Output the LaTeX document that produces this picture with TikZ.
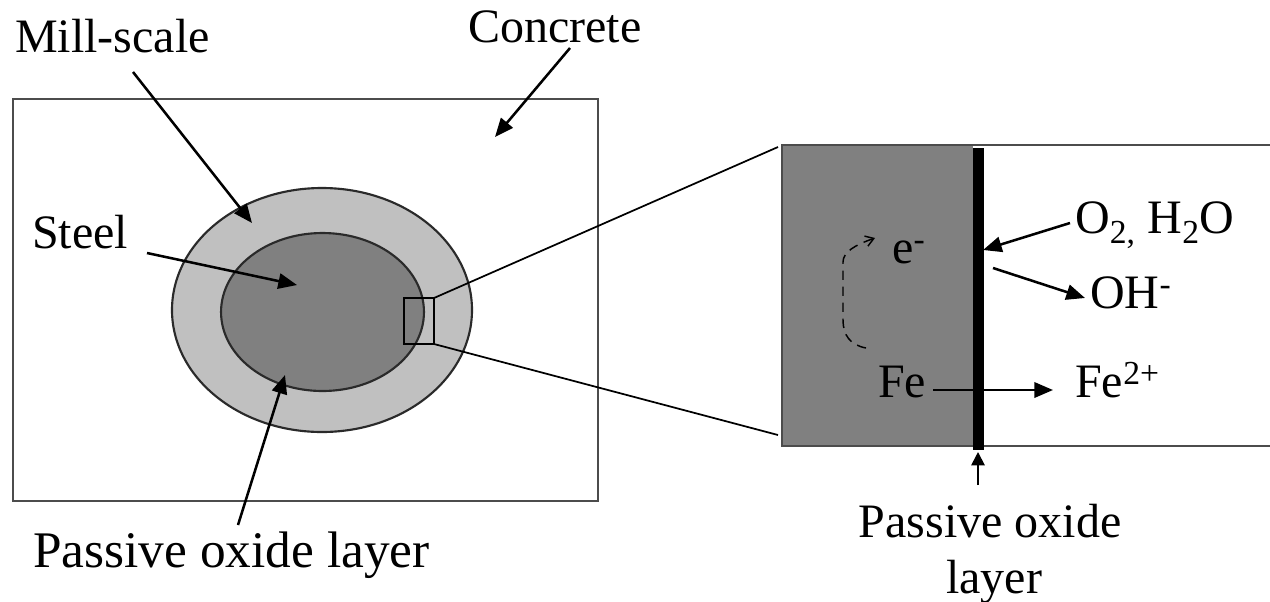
\documentclass[tikz,border=0pt]{standalone}
\usepackage{fontspec}
\setmainfont{Liberation Serif}
\usetikzlibrary{arrows.meta}
\definecolor{millgray}{HTML}{C0C0C0}
\definecolor{steelgray}{HTML}{808080}
\definecolor{edgegray}{HTML}{2A2A2A}
\begin{document}
\begin{tikzpicture}[x=0.75pt,y=-0.75pt,
  lbl/.style={inner sep=0pt, font=\fontsize{36}{42}\selectfont},
  ptr/.style={line width=1.9pt, -{Triangle[length=14pt,width=11.5pt]}},
  zoomline/.style={line width=1.3pt},
  outline/.style={draw=edgegray, line width=1.6pt}]
\useasboundingbox (0,0) rectangle (1270,601);

% ---- cross-section of the bar in concrete ----
\draw[outline, draw=black!70, line width=1.9pt] (13,99) rectangle (598,501);
\draw[outline, fill=millgray] (322,310) ellipse [x radius=112.5pt, y radius=91.5pt];
\draw[outline, fill=steelgray] (322.5,312) ellipse [x radius=76.1pt, y radius=59.25pt];
\draw[line width=1.4pt] (404,298) rectangle (434,344);
\coordinate (sqTop) at (434,298);
\coordinate (sqBot) at (434,344);

% ---- enlarged detail of the interface ----
\draw[outline, draw=black!70] (782,145) rectangle (1275,446);
\fill[steelgray] (783,146) rectangle (973,445);
\draw[outline, draw=black!70] (782,145) -- (782,446);
\fill[black] (973,148) rectangle (984,450);
\coordinate (detTop) at (778,147);
\coordinate (detBot) at (778,435);
\draw[zoomline] (sqTop) -- (detTop);
\draw[zoomline] (sqBot) -- (detBot);

% ---- labels, left part ----
\node[lbl, anchor=base west] (mill) at (15,52) {Mill-scale};
\node[lbl, anchor=base west] (conc) at (468,42) {Concrete};
\node[lbl, anchor=base west] (steel) at (32,248) {Steel};
\node[lbl, anchor=base east, font=\fontsize{38.5}{45}\selectfont] (pol) at (430,567) {Passive oxide layer};

\coordinate (millT) at (133,72);   \coordinate (millH) at (252,223);
\coordinate (concT) at (570,48);   \coordinate (concH) at (495,137);
\coordinate (steelT) at (147,253); \coordinate (steelH) at (297,285);
\coordinate (polT) at (238,525);   \coordinate (polH) at (285,375);
\draw[ptr] (millT) -- (millH);
\draw[ptr] (concT) -- (concH);
\draw[ptr] (steelT) -- (steelH);
\draw[ptr] (polT) -- (polH);

% ---- labels, detail ----
\node[lbl, anchor=base west] (elec) at (892,263) {e\textsuperscript{-}};
\node[lbl, anchor=base west] (fe) at (878,397) {Fe};
\node[lbl, anchor=base west] (fe2) at (1075,397) {Fe\textsuperscript{2+}};
\node[lbl, anchor=base west] (oxw) at (1075,233) {O\textsubscript{2,} H\textsubscript{2}O};
\node[lbl, anchor=base west] (oh) at (1090,308) {OH\textsuperscript{-}};
\node[lbl, anchor=base] (pol2a) at (990,537) {Passive oxide};
\node[lbl, anchor=base] (pol2b) at (994,593) {layer};

\coordinate (oxT) at (1070,223);  \coordinate (oxH) at (983,250);
\coordinate (ohT) at (993,268);   \coordinate (ohH) at (1085,298);
\coordinate (feT) at (933,390);   \coordinate (feH) at (1053,390);
\coordinate (upT) at (978,485);   \coordinate (upH) at (978,452);
\draw[ptr] (oxT) -- (oxH);
\draw[ptr] (ohT) -- (ohH);
\draw[ptr] (feT) -- (feH);
\draw[line width=1.4pt, -{Triangle[length=10pt,width=10pt]}] (upT) -- (upH);

% electron path through the steel
\coordinate (eS) at (866,348);
\coordinate (eE) at (875,238);
\draw[line width=1.1pt, dash pattern=on 7pt off 5pt,
      -{Straight Barb[length=6pt,width=8pt]}]
  (eS) .. controls (850,345) and (843,335) .. (843,320) -- (843,262)
       .. controls (843,252) and (855,245) .. (eE);
\end{tikzpicture}
\end{document}
